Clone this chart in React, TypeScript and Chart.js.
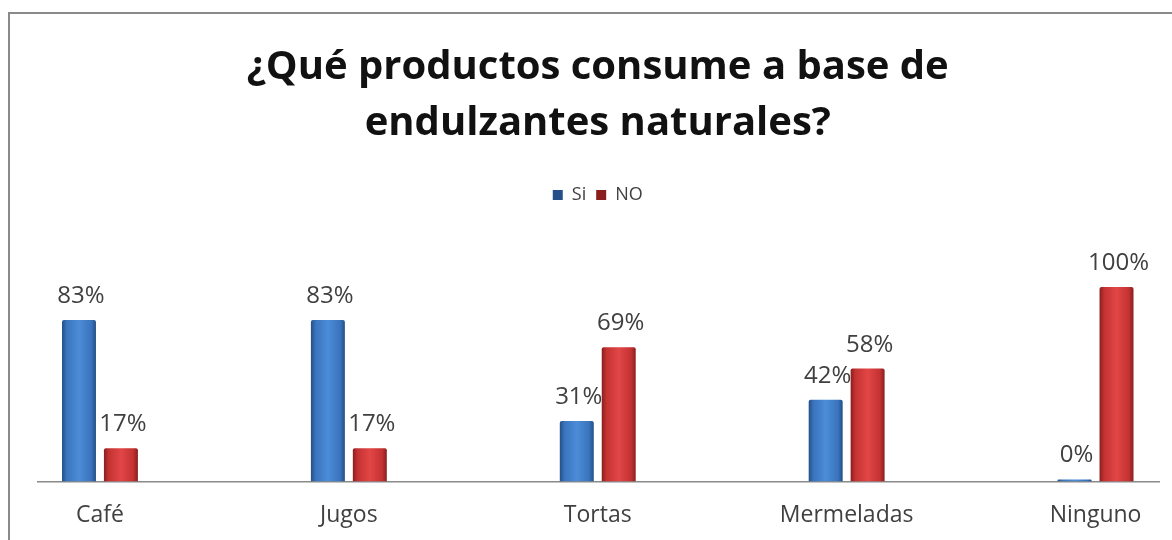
import React, { useEffect, useRef } from 'react';
import { Chart, registerables } from 'chart.js';

Chart.register(...registerables);

const titleLines = ['¿Qué productos consume a base de', 'endulzantes naturales?'];
const categories = ['Café', 'Jugos', 'Tortas', 'Mermeladas', 'Ninguno'];
const seriesNames = ['Si', 'NO'];
const siValues = [83, 83, 31, 42, 0];
const noValues = [17, 17, 69, 58, 100];

const CAT_PCT = 0.337;
const BAR_PCT = 0.81;
const LEGEND_GAP = 34;

const blueStops: [number, string][] = [
  [0, '#244f88'], [0.14, '#3a74bd'], [0.5, '#4c8cd8'], [0.86, '#3a74bd'], [1, '#244f88'],
];
const redStops: [number, string][] = [
  [0, '#8a1e1e'], [0.14, '#c43232'], [0.5, '#e24646'], [0.86, '#c43232'], [1, '#8a1e1e'],
];

function barFill(stops: [number, string][], solid: string) {
  return (ctx: any) => {
    if (ctx.type !== 'data') return solid;
    const chart = ctx.chart;
    const xs = chart.scales && chart.scales.x;
    if (!xs || !chart.chartArea) return solid;
    const n = categories.length;
    const cat = xs.width / n;
    const slot = (cat * CAT_PCT) / 2;
    const w = slot * BAR_PCT;
    const c = xs.getPixelForValue(ctx.dataIndex) + (ctx.datasetIndex - 0.5) * slot;
    const g = chart.ctx.createLinearGradient(c - w / 2, 0, c + w / 2, 0);
    stops.forEach(([o, col]) => g.addColorStop(o, col));
    return g;
  };
}

const legendSpacer = {
  id: 'legendSpacer',
  beforeInit(chart: any) {
    const legend = chart.legend;
    if (!legend) return;
    const orig = legend.fit;
    legend.fit = function () {
      orig.call(this);
      this.height += LEGEND_GAP;
    };
  },
};

const valueLabels = {
  id: 'valueLabels',
  afterDatasetsDraw(chart: any) {
    const { ctx } = chart;
    ctx.save();
    ctx.font = '24px "Open Sans", sans-serif';
    ctx.fillStyle = '#404040';
    ctx.textAlign = 'center';
    ctx.textBaseline = 'alphabetic';
    chart.data.datasets.forEach((ds: any, di: number) => {
      const meta = chart.getDatasetMeta(di);
      meta.data.forEach((el: any, i: number) => {
        ctx.fillText(ds.data[i] + '%', el.x + 2, el.y - 17);
      });
    });
    ctx.restore();
  },
};

export default function App() {
  const canvasRef = useRef<HTMLCanvasElement | null>(null);

  useEffect(() => {
    if (!canvasRef.current) return;
    Chart.defaults.font.family = '"Open Sans", sans-serif';
    const chart = new Chart(canvasRef.current, {
      type: 'bar',
      data: {
        labels: categories,
        datasets: [
          {
            label: seriesNames[0],
            data: siValues,
            backgroundColor: barFill(blueStops, '#3f7fcc'),
            categoryPercentage: CAT_PCT,
            barPercentage: BAR_PCT,
            minBarLength: 2,
            borderRadius: { topLeft: 2, topRight: 2 },
          },
          {
            label: seriesNames[1],
            data: noValues,
            backgroundColor: barFill(redStops, '#d23a3a'),
            categoryPercentage: CAT_PCT,
            barPercentage: BAR_PCT,
            borderRadius: { topLeft: 2, topRight: 2 },
          },
        ],
      },
      options: {
        animation: false,
        responsive: true,
        maintainAspectRatio: false,
        layout: { padding: { left: 75.5, right: 80, top: 0, bottom: 17 } },
        plugins: {
          title: {
            display: true,
            text: titleLines,
            color: '#111111',
            font: { size: 40, weight: 'bold', lineHeight: 1.4 },
            padding: { top: 40, bottom: 24 },
          },
          legend: {
            display: true,
            position: 'top',
            labels: {
              boxWidth: 10,
              boxHeight: 10,
              padding: 10,
              color: '#404040',
              font: { size: 18 },
            },
          },
          tooltip: { enabled: false },
        },
        scales: {
          x: {
            offset: true,
            grid: { display: false },
            border: { display: true, color: '#8a8a8a', width: 1.5 },
            ticks: {
              color: '#404040',
              font: { size: 23 },
              padding: 12,
              maxRotation: 0,
              autoSkip: false,
            },
          },
          y: {
            display: false,
            min: 0,
            max: 120,
            grid: { display: false },
          },
        },
      },
      plugins: [legendSpacer, valueLabels],
    });
    return () => chart.destroy();
  }, []);

  return (
    <div
      style={{
        position: 'fixed',
        left: 0,
        top: 0,
        width: 1172,
        height: 540,
        background: '#ffffff',
        overflow: 'hidden',
      }}
    >
      <div
        style={{
          position: 'absolute',
          left: 8,
          top: 12,
          width: 1300,
          height: 700,
          border: '2px solid #8a8a8a',
          boxSizing: 'border-box',
        }}
      />
      <div
        style={{
          position: 'absolute',
          left: 37,
          top: 0,
          width: 1123,
          height: 540,
          overflow: 'hidden',
        }}
      >
        <div style={{ position: 'absolute', left: -137, top: 0, width: 1400, height: 558 }}>
          <canvas ref={canvasRef} />
        </div>
      </div>
    </div>
  );
}
